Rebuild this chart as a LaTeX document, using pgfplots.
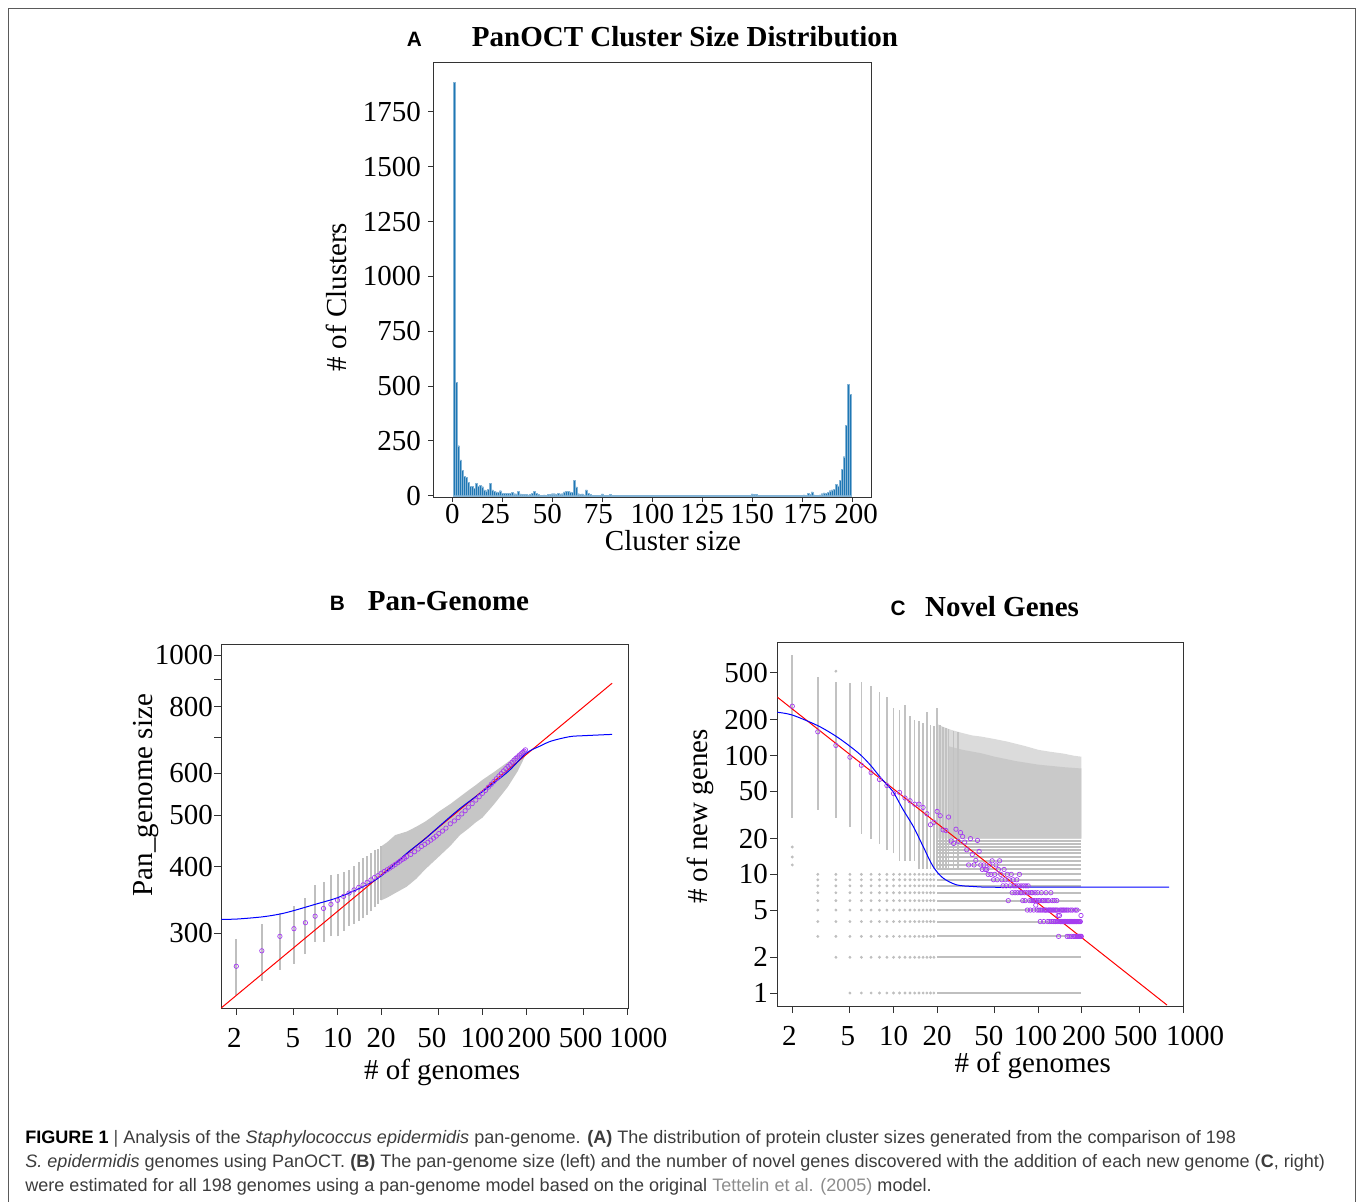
\documentclass[border=0pt]{standalone}
\usepackage{fontspec}
\setmainfont{Liberation Serif}
\newfontfamily\capfont{Liberation Sans}
\usepackage{pgfplots}
\pgfplotsset{compat=1.18}
\definecolor{barblue}{RGB}{31,119,180}
\definecolor{circ}{RGB}{165,60,240}
\definecolor{framegray}{RGB}{90,90,90}
\definecolor{captext}{RGB}{60,60,60}
\definecolor{linkgray}{RGB}{140,140,140}

\pgfplotsset{
  panel/.style={
    scale only axis, anchor=south west,
    axis line style={black!80, line width=0.5pt},
    tick style={black!80, line width=0.5pt},
    tick align=outside, xtick pos=left, ytick pos=left,
    minor tick num=0,
    tick label style={font=\fontsize{14.5}{16}\selectfont},
    label style={font=\fontsize{14.5}{16}\selectfont},
    unbounded coords=jump,
  },
  graycol/.style={gray!50, line width=1pt},
  circs/.style={only marks, mark=o, mark size=1.1pt, circ, mark options={line width=0.35pt}},
}
\newcommand\ttl{\fontsize{14.5}{16}\selectfont\bfseries}
\newcommand\plet{\fontsize{10.4}{12}\capfont\bfseries}
% tick label moved sideways by #1
\newcommand\sh[2]{\makebox[0pt][c]{\hspace*{#1}\hspace*{#1}#2}}

\begin{document}
\begin{tikzpicture}
\path[use as bounding box] (0,0) rectangle (679pt,-600.5pt);

% ---------------- A: cluster size histogram
\begin{axis}[panel, at={(216.5pt,-248.5pt)}, width=219pt, height=217.5pt,
  xmin=-9.65, xmax=209.4, ymin=-6, ymax=1978,
  xtick={0,25,...,200},
  xticklabels={0,\sh{-3.5pt}{25},\sh{-2.5pt}{50},\sh{-2pt}{75},100,125,150,\sh{1.5pt}{175},\sh{2pt}{200}},
  ytick={0,250,...,1750}, yticklabels={0,250,500,750,1000,1250,1500,1750},
  major tick length=2.5pt,
  xticklabel style={inner ysep=1pt},
  xlabel={Cluster size}, ylabel={\# of Clusters},
  xlabel style={at={(axis description cs:0.548,-0.101)}, anchor=center},
  ylabel style={at={(axis description cs:-0.221,0.46)}, anchor=center},
]
\addplot[ybar, bar width=1, fill=barblue, draw=barblue!55, line width=0.15pt] coordinates {
(1,1885) (2,518) (3,228) (4,163) (5,117) (6,87) (7,84) (8,62) (9,44) (10,44)
(11,35) (12,56) (13,44) (14,47) (15,41) (16,26) (17,23) (18,30) (19,56) (20,26)
(21,20) (22,17) (23,14) (24,23) (25,11) (26,11) (27,10) (28,12) (29,10) (30,14)
(31,9) (32,8) (33,21) (34,8) (35,6) (36,5) (37,5) (38,4) (39,6) (40,10)
(41,21) (42,11) (43,5) (44,3) (45,3) (46,4) (47,3) (48,6) (49,7) (50,9)
(51,9) (52,6) (53,12) (54,8) (55,9) (56,17) (57,21) (58,21) (59,17) (60,14)
(61,70) (62,40) (63,9) (64,6) (65,8) (66,4) (67,27) (68,11) (69,6) (70,3)
(71,2) (72,3) (73,2) (74,2) (75,8) (76,3) (77,2) (78,2) (79,6) (80,3)
(81,1) (82,2) (83,1) (84,3) (85,1) (86,2) (87,1) (88,1) (89,2) (90,1)
(91,1) (92,2) (93,1) (94,1) (95,1) (96,2) (97,1) (98,1) (99,1) (100,1)
(101,2) (102,1) (103,1) (104,2) (105,1) (106,1) (107,1) (108,1) (109,1) (110,2)
(111,1) (112,1) (113,1) (114,1) (115,1) (116,2) (117,1) (118,1) (119,1) (120,1)
(121,1) (122,2) (123,1) (124,1) (125,1) (126,1) (127,2) (128,1) (129,1) (130,1)
(131,1) (132,1) (133,1) (134,1) (135,1) (136,1) (137,1) (138,1) (139,1) (140,2)
(141,1) (142,1) (143,1) (144,1) (145,2) (146,2) (147,3) (148,2) (149,3) (150,8)
(151,7) (152,5) (153,2) (154,1) (155,1) (156,1) (157,1) (158,2) (159,1) (160,1)
(161,1) (162,2) (163,2) (164,1) (165,3) (166,1) (167,2) (168,1) (169,2) (170,2)
(171,3) (172,1) (173,2) (174,3) (175,2) (176,4) (177,3) (178,11) (179,5) (180,17)
(181,4) (182,3) (183,2) (184,4) (185,9) (186,13) (187,11) (188,15) (189,23) (190,26)
(191,29) (192,53) (193,45) (194,71) (195,120) (196,178) (197,322) (198,507) (199,463)
};
\end{axis}

% ---------------- B: pan-genome
\begin{axis}[panel, at={(110.65pt,-504pt)}, width=203.35pt, height=181.65pt,
  xmode=log, ymode=log, xmin=1.576, xmax=1011, ymin=217, ymax=1047,
  xtick={2,5,10,20,50,100,200,500,1000},
  xticklabels={\sh{-1pt}{2},\sh{-0.5pt}{5},10,20,\sh{-3.5pt}{50},100,\sh{1.5pt}{200},\sh{-1.5pt}{500},\sh{5.5pt}{1000}},
  ytick={300,400,500,600,700,800,900,1000}, yticklabels={300,400,500,600,,800,,1000},
  major tick length=3.5pt,
  xticklabel style={yshift=-3pt},
  yticklabel style={inner xsep=0.5pt},
  xlabel={\# of genomes}, ylabel={Pan\_genome size},
  xlabel style={at={(axis description cs:0.543,-0.178)}, anchor=center},
  ylabel style={at={(axis description cs:-0.186,0.586)}, anchor=center},
]
% permutation spread
\addplot[fill=gray!45, draw=none] coordinates {
(20,437) (22,445) (25,459) (30,466) (35,476) (40,486) (45,497) (50,508) (60,525)
(70,542) (80,557) (90,570) (100,583) (120,603) (150,630) (175,650) (190,660) (198,663)
(198,649) (190,633) (175,605) (150,566) (120,524) (100,495) (90,485) (80,472)
(70,459) (60,438) (50,418) (45,407) (40,395) (35,380) (30,367) (25,357) (22,350) (20,346)
};
\addplot[graycol] coordinates {
(2,230) (2,292) (2,nan) (3,244) (3,312) (3,nan) (4,256) (4,327) (4,nan)
(5,263) (5,338) (5,nan) (6,274) (6,350) (6,nan) (7,289) (7,370) (7,nan)
(8,289) (8,375) (8,nan) (9,296) (9,386) (9,nan) (10,296) (10,388) (10,nan)
(11,303) (11,391) (11,nan) (12,310) (12,395) (12,nan) (13,312) (13,402) (13,nan)
(14,316) (14,409) (14,nan) (15,320) (15,415) (15,nan) (16,325) (16,420) (16,nan)
(17,330) (17,425) (17,nan) (18,336) (18,430) (18,nan) (19,341) (19,433) (19,nan)
(20,346) (20,437)
};
\addplot[circs] coordinates {
(2,260) (3,278) (4,296) (5,306) (6,314) (7,323) (8,334) (9,340) (10,346)
(11,352) (12,357) (13,362) (14,366) (15,370) (16,374) (17,378) (18,382) (19,385)
(20,389) (21,392) (22,395) (23,398) (24,401) (25,404) (26,407) (27,410) (28,413)
(29,415) (30,418) (32,422) (34,427) (36,432) (38,437) (40,441) (42,445) (44,449)
(46,453) (48,457) (50,462) (53,467) (56,473) (60,482) (64,488) (68,495) (72,503)
(76,510) (80,518) (85,526) (90,534) (95,542) (100,550) (105,557) (110,565)
(115,572) (120,579) (125,586) (130,593) (135,599) (140,606) (145,612) (150,618)
(155,623) (160,629) (165,635) (170,640) (175,644) (180,649) (185,653) (190,657)
(194,660) (198,664)
};
\addplot[red, line width=0.5pt] coordinates {(1.5,214.7) (785,886)};
\addplot[blue, line width=0.5pt, smooth] coordinates {
(1.576,318.7) (2,319) (3,322) (4,326) (5,331) (7,340) (10,350) (15,367) (20,384.5)
(30,424) (40,451) (50,476) (70,515) (100,554) (150,604) (200,654) (250,675)
(300,690) (400,703) (500,706) (785,710)
};
\end{axis}

% ---------------- C: novel genes
\begin{axis}[panel, at={(388.65pt,-503pt)}, width=203pt, height=181.65pt,
  xmode=log, ymode=log, xmin=1.576, xmax=1002, ymin=0.777, ymax=895,
  xtick={2,5,10,20,50,100,200,500,1000},
  xticklabels={\sh{-1.5pt}{2},\sh{-1pt}{5},10,20,\sh{-3pt}{50},\sh{-1.5pt}{100},\sh{1pt}{200},\sh{-2pt}{500},\sh{6pt}{1000}},
  ytick={1,2,5,10,20,50,100,200,500}, yticklabels={1,2,5,10,20,50,100,200,500},
  major tick length=3.5pt,
  xticklabel style={yshift=-3pt},
  yticklabel style={inner xsep=1pt},
  xlabel={\# of genomes}, ylabel={\# of new genes},
  xlabel style={at={(axis description cs:0.629,-0.164)}, anchor=center},
  ylabel style={at={(axis description cs:-0.19,0.522)}, anchor=center},
]
% sparse upper cloud
\addplot[fill=gray!28, draw=none] coordinates {
(20,185) (22,175) (25,165) (30,155) (35,148) (40,145) (50,138) (60,132) (70,126)
(80,121) (100,112) (120,108) (150,104) (175,100) (198,98) (198,20) (20,20)
};
% dense cloud
\addplot[fill=gray!42, draw=none] coordinates {
(24,120) (30,112) (40,105) (50,98) (70,90) (100,84) (150,80) (198,78)
(198,20) (24,20)
};
\addplot[gray!48, line width=0.8pt] coordinates {
(2,30) (2,712) (2,nan) (3,35) (3,458) (3,nan) (4,30) (4,416) (4,nan)
(5,25) (5,410) (5,nan) (6,22) (6,418) (6,nan) (7,20) (7,385) (7,nan)
(8,18) (8,342) (8,nan) (9,16) (9,312) (9,nan) (10,15) (10,253) (10,nan)
(11,13) (11,244) (11,nan) (12,13) (12,269) (12,nan) (13,13) (13,215) (13,nan)
(14,13) (14,201) (14,nan) (15,11) (15,195) (15,nan) (16,11) (16,189) (16,nan)
(17,11) (17,232) (17,nan) (18,11) (18,183) (18,nan) (19,11) (19,177) (19,nan)
(20,11) (20,253) (20,nan) (21,11) (21,180) (21,nan) (22,11) (22,175) (22,nan)
(23,11) (23,170) (23,nan) (24,11) (24,168) (24,nan) (26,11) (26,162) (26,nan)
(28,11) (28,158)
};
% integer rows, dense part
\addplot[gray!50, line width=1pt] coordinates {
(20,1) (198,1) (20,nan) (20,2) (198,2) (20,nan) (20,3) (198,3) (20,nan)
(20,4) (198,4) (20,nan) (20,5) (198,5) (20,nan) (20,6) (198,6) (20,nan)
(20,7) (198,7) (20,nan) (20,8) (198,8) (20,nan) (20,9) (198,9) (20,nan)
(20,10) (198,10) (20,nan) (20,11) (198,11) (20,nan) (20,12) (198,12) (20,nan)
(20,13) (198,13) (20,nan) (20,14) (198,14) (20,nan) (20,15) (198,15) (20,nan)
(20,16) (198,16) (20,nan) (20,17) (198,17) (20,nan) (20,18) (198,18) (20,nan)
(20,19) (198,19)
};
% integer rows, sparse part
\addplot[only marks, gray!50, mark=*, mark size=0.5pt, mark options={draw=none, fill=gray!50}] coordinates {
(2,12) (2,14) (2,17) (4,515)
(5,1) (6,1) (7,1) (8,1) (9,1) (10,1) (11,1) (12,1) (13,1) (14,1) (15,1) (16,1) (17,1) (18,1) (19,1)
(4,2) (5,2) (6,2) (7,2) (8,2) (9,2) (10,2) (11,2) (12,2) (13,2) (14,2) (15,2) (16,2) (17,2) (18,2) (19,2)
(3,3) (4,3) (5,3) (6,3) (7,3) (8,3) (9,3) (10,3) (11,3) (12,3) (13,3) (14,3) (15,3) (16,3) (17,3) (18,3) (19,3)
(3,4) (4,4) (5,4) (6,4) (7,4) (8,4) (9,4) (10,4) (11,4) (12,4) (13,4) (14,4) (15,4) (16,4) (17,4) (18,4) (19,4)
(3,5) (4,5) (5,5) (6,5) (7,5) (8,5) (9,5) (10,5) (11,5) (12,5) (13,5) (14,5) (15,5) (16,5) (17,5) (18,5) (19,5)
(3,6) (4,6) (5,6) (6,6) (7,6) (8,6) (9,6) (10,6) (11,6) (12,6) (13,6) (14,6) (15,6) (16,6) (17,6) (18,6) (19,6)
(3,7) (4,7) (5,7) (6,7) (7,7) (8,7) (9,7) (10,7) (11,7) (12,7) (13,7) (14,7) (15,7) (16,7) (17,7) (18,7) (19,7)
(3,8) (4,8) (5,8) (6,8) (7,8) (8,8) (9,8) (10,8) (11,8) (12,8) (13,8) (14,8) (15,8) (16,8) (17,8) (18,8) (19,8)
(3,9) (4,9) (5,9) (6,9) (7,9) (8,9) (9,9) (10,9) (11,9) (12,9) (13,9) (14,9) (15,9) (16,9) (17,9) (18,9) (19,9)
(3,10) (4,10) (5,10) (6,10) (7,10) (8,10) (9,10) (10,10) (11,10) (12,10) (13,10) (14,10) (15,10) (16,10) (17,10) (18,10) (19,10)
};
\addplot[circs] coordinates {
(2,261) (3,159) (4,122) (5,97) (6,83) (7,72) (8,63) (9,56) (10,48)
(11,49) (12,44) (13,41.7) (14,39) (15,39) (16,36.6) (17,32.4) (18,26.2) (19,27.4) (20,33.9)
(21,31.2) (22,23.7) (23,23.4) (24,30.4) (25,19.1) (26,18.2) (27,24) (28,19) (29,22.5) (30,20.8)
(31,18.7) (32,16.1) (33,12) (34,20) (35,14.7) (36,12) (37,13.1) (38,19.3) (39,15.6) (40,12)
(41,11) (42,12) (43,11) (44,11) (45,10) (46,12) (47,10) (48,13) (49,9) (50,10)
(51,12) (52,9) (53,11) (54,13) (55,10) (56,9) (57,8) (58,11) (59,9) (60,8)
(61,10) (62,6) (63,9) (64,8) (65,10) (66,7) (67,9) (68,8) (69,7) (70,8)
(71,9) (72,7) (73,8) (74,10) (75,7) (76,8) (77,7) (78,6) (79,8) (80,7)
(81,6) (82,8) (83,7) (84,5) (85,8) (86,7) (87,6) (88,5) (89,7) (90,6)
(91,7) (92,6) (93,5) (94,6) (95,7) (96,5.5) (97,6) (98,5) (99,7) (100,6)
(101,5) (102,6) (103,4) (104,5) (105,7) (106,6) (107,5) (108,6) (109,4) (110,5)
(111,6) (112,5) (113,7) (114,5) (115,6) (116,4) (117,5) (118,6) (119,5) (120,4)
(121,5) (122,7) (123,5) (124,4) (125,6) (126,5) (127,4) (128,5) (129,6) (130,4)
(131,5) (132,4) (133,5) (134,6) (135,4) (136,5) (137,4.5) (138,3) (139,4) (140,4.5)
(141,5) (142,4) (143,4) (144,5) (145,4) (146,4) (147,5) (148,4) (149,4) (150,5)
(151,4) (152,4) (153,5) (154,4) (155,4) (156,4) (157,5) (158,3) (159,4) (160,4)
(161,5) (162,4) (163,3) (164,4) (165,4) (166,4) (167,5) (168,4) (169,3) (170,4)
(171,4) (172,5) (173,4) (174,4) (175,3) (176,4) (177,4) (178,3) (179,4) (180,5)
(181,4) (182,3) (183,4) (184,4) (185,5) (186,3) (187,4) (188,3) (189,4) (190,3)
(191,4) (192,3) (193,4) (194,3) (195,4) (196,3) (197,4.5) (198,3)
};
\addplot[red, line width=0.5pt] coordinates {(1.569,312.7) (773,0.792)};
\addplot[blue, line width=0.5pt, smooth] coordinates {
(1.576,232) (2,220) (3,179) (4,146) (5,120) (6,100) (7,82) (8,67) (9,57) (10,49)
(11.66,35) (13.7,25.3) (16,17.2) (18.8,11.6) (22,9.3) (27.3,8.15) (35.5,7.9)
(46.3,7.79) (100,7.79) (801,7.79)
};
\end{axis}

% ---------------- titles, frame, caption (pixel coordinates)
\begin{scope}[x=0.5pt, y=-0.5pt]
\draw[framegray, line width=0.8pt] (8.3,1202) -- (8.3,8.3) -- (1355.3,8.3) -- (1355.3,1202);
\node[anchor=base, inner sep=0, font=\plet] at (414.5,46) {A};
\node[anchor=base, inner sep=0, font=\ttl] at (685,46) {PanOCT Cluster Size Distribution};
\node[anchor=base, inner sep=0, font=\plet] at (337.5,610) {B};
\node[anchor=base, inner sep=0, font=\ttl] at (448.5,610) {Pan-Genome};
\node[anchor=base, inner sep=0, font=\plet] at (898,615.5) {C};
\node[anchor=base, inner sep=0, font=\ttl] at (1002,616) {Novel Genes};
\begin{scope}[every node/.style={anchor=base west, inner sep=0, text=captext,
    font=\fontsize{9.02}{11}\capfont}]
\node at (25,1143) {\textbf{\color{black}FIGURE 1} {\color{black!70}|} Analysis of the \textit{Staphylococcus epidermidis} pan-genome. \textbf{(A)} The distribution of protein cluster sizes generated from the comparison of 198};
\node at (25,1167) {\textit{S. epidermidis} genomes using PanOCT. \textbf{(B)} The pan-genome size (left) and the number of novel genes discovered with the addition of each new genome (\textbf{C}, right)};
\node at (25,1191) {were estimated for all 198 genomes using a pan-genome model based on the original {\color{linkgray}Tettelin et al. (2005)} model.};
\end{scope}
\end{scope}
\end{tikzpicture}
\end{document}
